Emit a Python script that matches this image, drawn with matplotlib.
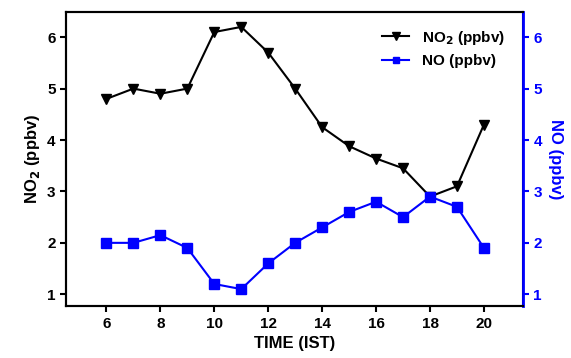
import numpy as np
import matplotlib.pyplot as plt

plt.rcParams['font.family'] = ['Liberation Sans', 'DejaVu Sans']
plt.rcParams['font.weight'] = 'bold'

# data
time_ist = [6, 7, 8, 9, 10, 11, 12, 13, 14, 15, 16, 17, 18, 19, 20]
no2_ppbv = [4.8, 5.0, 4.9, 5.0, 6.1, 6.2, 5.7, 5.0, 4.25, 3.88, 3.64, 3.45, 2.9, 3.1, 4.3]
no_ppbv = [2.0, 2.0, 2.15, 1.9, 1.2, 1.1, 1.6, 2.0, 2.3, 2.6, 2.8, 2.5, 2.9, 2.7, 1.9]
xticks = [6, 8, 10, 12, 14, 16, 18, 20]
yticks = [1, 2, 3, 4, 5, 6]

fig = plt.figure(figsize=(5.71, 3.58), dpi=100)
ax = fig.add_axes([0.1156, 0.145, 0.8004, 0.8215])
ax2 = ax.twinx()

l1, = ax.plot(time_ist, no2_ppbv, color='black', marker='v', markersize=7.5,
              linewidth=1.5, label='NO$_2$ (ppbv)')
l2, = ax2.plot(time_ist, no_ppbv, color='blue', marker='s', markersize=6.5,
               linewidth=1.5, label='NO (ppbv)')

ax.set_xlim(4.5, 21.45)
ax.set_ylim(0.77, 6.49)
ax2.set_ylim(0.77, 6.49)
ax.set_xticks(xticks)
ax.set_yticks(yticks)
ax2.set_yticks(yticks)

for a in (ax, ax2):
    for s in a.spines.values():
        s.set_linewidth(1.5)
ax2.spines['right'].set_color('blue')
ax2.spines['right'].set_linewidth(2)

ax.tick_params(axis='both', direction='out', width=1.5, length=4, labelsize=11)
ax2.tick_params(axis='y', direction='out', width=1.5, length=4, labelsize=11,
                colors='blue')

ax.set_xlabel('TIME (IST)', fontsize=12, fontweight='bold')
ax.set_ylabel('NO$_2$ (ppbv)', fontsize=12, fontweight='bold')
ax2.set_ylabel('NO (ppbv)', fontsize=12, fontweight='bold', color='blue',
               rotation=270, labelpad=15)

ax.legend(handles=[l1, l2], loc='upper right', frameon=False, fontsize=11,
          handlelength=1.8, bbox_to_anchor=(0.99, 0.99), markerscale=0.7)

fig.savefig('out.png', dpi=100)
